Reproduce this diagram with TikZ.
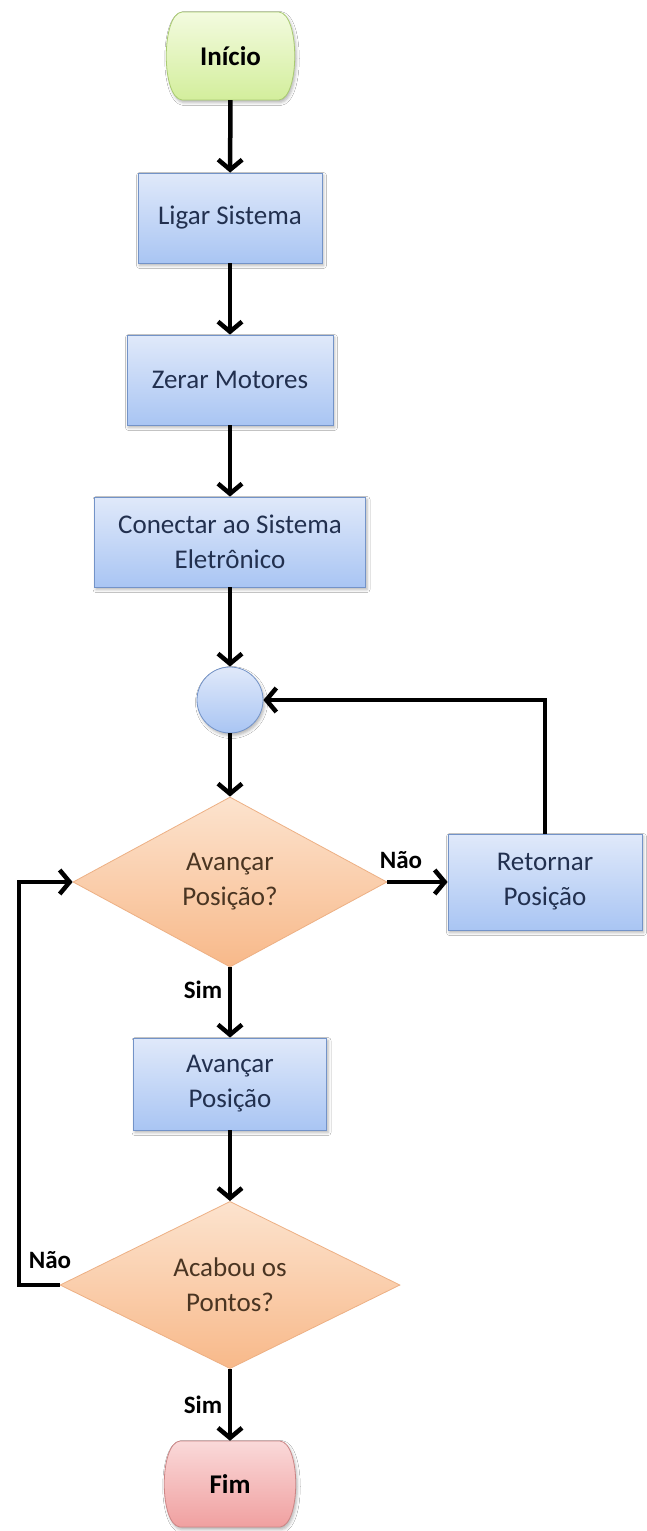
\documentclass[tikz,border=0pt]{standalone}
\usepackage{fontspec}
\setmainfont{Carlito}
\usetikzlibrary{shapes.geometric,arrows.meta,shadows.blur,backgrounds}
\definecolor{boxtop}{HTML}{E0E9FA}
\definecolor{boxbot}{HTML}{A9C5F3}
\definecolor{boxline}{HTML}{7393C8}
\definecolor{boxtext}{HTML}{22304F}
\definecolor{sttop}{HTML}{F3FBDF}
\definecolor{stbot}{HTML}{D3EE9C}
\definecolor{stline}{HTML}{A9CB70}
\definecolor{fimtop}{HTML}{FAD9D9}
\definecolor{fimbot}{HTML}{F0A0A0}
\definecolor{fimline}{HTML}{CC8585}
\definecolor{dtop}{HTML}{FCE3CE}
\definecolor{dbot}{HTML}{F8B98A}
\definecolor{dline}{HTML}{EDB084}
\definecolor{dtext}{HTML}{4A3522}
\begin{document}
\begin{tikzpicture}[x=1pt,y=-1pt,
  every node/.style={font=\fontsize{27}{35}\selectfont},
  shad/.style={blur shadow={shadow xshift=1.5pt, shadow yshift=-2.5pt, shadow blur radius=3pt, shadow opacity=30}},
  box/.style={rectangle, draw=boxline, line width=0.8pt, top color=boxtop, bottom color=boxbot, text=boxtext, align=center, inner sep=0pt, shad},
  termtext/.style={rectangle, inner sep=0pt, minimum height=88, font=\fontsize{27}{35}\selectfont\bfseries, text=black},
  termshape/.style={line width=0.8pt, shad},
  dec/.style={diamond, draw=dline, line width=0.8pt, top color=dtop, bottom color=dbot, text=dtext, align=center, inner sep=0pt},
  circ/.style={circle, draw=boxline, line width=0.8pt, top color=boxtop, bottom color=boxbot, minimum size=66, inner sep=0pt, shad},
  lbl/.style={font=\fontsize{25}{28}\selectfont\bfseries, text=black, inner sep=0pt},
  arr/.style={line width=4.5pt, -{Straight Barb[length=10pt,width=24pt]}}
]
\useasboundingbox (0,0) rectangle (647,1531);

\node[termtext, minimum width=125] (start) at (230.5,56) {Início};
\node[box, minimum width=184, minimum height=90] (ligar) at (230,218) {Ligar Sistema};
\node[box, minimum width=206, minimum height=90] (zerar) at (230,380) {Zerar Motores};
\node[box, minimum width=271, minimum height=90] (conectar) at (230,542) {Conectar ao Sistema\\Eletrônico};
\node[circ] (junc) at (230,700) {};
\node[dec, minimum width=314, minimum height=170] (d1) at (230,882) {Avançar\\Posição?};
\node[box, minimum width=194, minimum height=96] (ret) at (545,882) {Retornar\\Posição};
\node[box, minimum width=193, minimum height=92] (av) at (230,1084) {Avançar\\Posição};
\node[dec, minimum width=340, minimum height=166] (d2) at (230,1285) {Acabou os\\Pontos?};
\node[termtext, minimum width=128, minimum height=86] (fim) at (230,1484) {Fim};

\begin{scope}[on background layer]
\fill[white] (0,0) rectangle (647,1531);
\path[termshape, draw=stline, top color=sttop, bottom color=stbot]
  (182,12) -- (279,12) .. controls (300,14) and (300,98) .. (279,100)
  -- (182,100) .. controls (161,98) and (161,14) .. (182,12) -- cycle;
\path[termshape, draw=fimline, top color=fimtop, bottom color=fimbot]
  (180,1441) -- (280,1441) .. controls (301,1443) and (301,1525) .. (280,1527)
  -- (180,1527) .. controls (159,1525) and (159,1443) .. (180,1441) -- cycle;
\end{scope}

\node[lbl] (nao1) at (401,860) {Não};
\node[lbl] (sim1) at (203,990) {Sim};
\node[lbl] (nao2) at (50,1260) {Não};
\node[lbl] (sim2) at (203,1405) {Sim};

\coordinate (lp) at (19,1285);

\draw[arr] (start) -- (ligar);
\draw[arr] (ligar) -- (zerar);
\draw[arr] (zerar) -- (conectar);
\draw[arr] (conectar) -- (junc);
\draw[arr] (junc) -- (d1.north);
\draw[arr] (d1.east) -- (ret.west);
\draw[arr] (ret.north) |- (junc.east);
\draw[arr] (d1.south) -- (av.north);
\draw[arr] (av) -- (d2.north);
\draw[arr] (d2.south) -- (fim.north);
\draw[arr] (d2.west) -- (lp) |- (d1.west);
\end{tikzpicture}
\end{document}
